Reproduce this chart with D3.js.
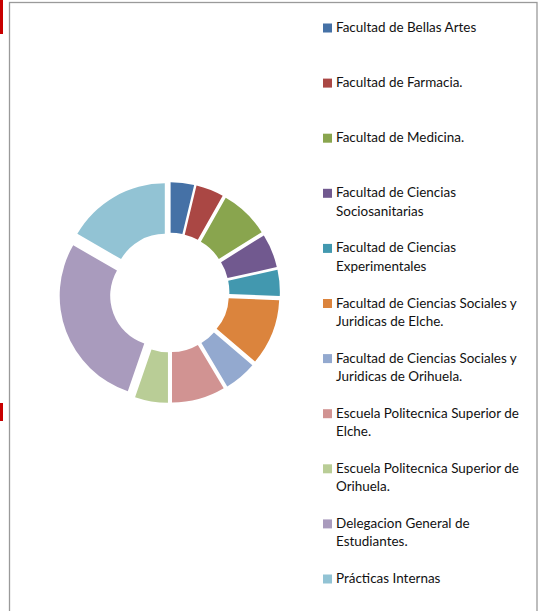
<!DOCTYPE html>
<html>
<head>
<meta charset="utf-8">
<script src="https://cdn.jsdelivr.net/npm/d3@7/dist/d3.min.js"></script>
<style>
  html, body { margin: 0; padding: 0; background: #fff; }
  svg { display: block; }
</style>
</head>
<body>
<svg id="chart" width="538" height="611"></svg>
<script>
const categories = [
  ["Facultad de Bellas Artes"],
  ["Facultad de Farmacia."],
  ["Facultad de Medicina."],
  ["Facultad de Ciencias", "Sociosanitarias"],
  ["Facultad de Ciencias", "Experimentales"],
  ["Facultad de Ciencias Sociales y", "Juridicas de Elche."],
  ["Facultad de Ciencias Sociales y", "Juridicas de Orihuela."],
  ["Escuela Politecnica Superior de", "Elche."],
  ["Escuela Politecnica Superior de", "Orihuela."],
  ["Delegacion General de", "Estudiantes."],
  ["Prácticas Internas"]
];
const values = [13.5, 16, 28.5, 19.5, 15, 38, 18.7, 30.8, 19, 101, 60];
const colors = ["#4571A6", "#AA4744", "#89A54E", "#71598F", "#4298AF", "#DB843D",
                "#93A9CF", "#D19392", "#B9CD96", "#A99BBD", "#92C3D4"];

const svg = d3.select("#chart");

// frame
svg.append("rect").attr("x", 9.5).attr("y", 2.5).attr("width", 527.5).attr("height", 640)
  .attr("fill", "none").attr("stroke", "#9a9a9a").attr("stroke-width", 1.3);
// red margin marks
svg.append("rect").attr("x", 0).attr("y", 0).attr("width", 3).attr("height", 34).attr("fill", "#C80000");
svg.append("rect").attr("x", 0).attr("y", 403).attr("width", 3).attr("height", 18).attr("fill", "#C80000");

// donut
const cx = 169.5, cy = 292.5, R = 101, r = 50.5, explode = 9.4;
const pie = d3.pie().sort(null).value(d => d);
const arcs = pie(values);
const arc = d3.arc().innerRadius(r).outerRadius(R);
const g = svg.append("g").attr("transform", `translate(${cx},${cy})`);
g.selectAll("path").data(arcs).enter().append("path")
  .attr("d", arc)
  .attr("fill", (d, i) => colors[i])
  .attr("transform", d => {
    const a = (d.startAngle + d.endAngle) / 2;
    return `translate(${Math.sin(a) * explode},${-Math.cos(a) * explode})`;
  });

// legend
const lx = 323, ty = 336, base0 = 32, step = 55.1, lh = 18.5;
const leg = svg.append("g");
const probe = leg.append("text").attr("font-family", "Lato, 'Open Sans', sans-serif")
  .attr("font-size", 14).text("Facultad de Ciencias Sociales y");
const w = probe.node().getComputedTextLength();
probe.remove();
const fs = 14 * 181 / w;
categories.forEach((lines, i) => {
  const by = base0 + i * step;
  leg.append("rect").attr("x", lx).attr("y", by - 8.5).attr("width", 9).attr("height", 9)
    .attr("fill", colors[i]);
  const t = leg.append("text").attr("font-family", "Lato, 'Open Sans', sans-serif")
    .attr("font-size", fs).attr("fill", "#111");
  lines.forEach((ln, j) => {
    t.append("tspan").attr("x", ty).attr("y", by + j * lh).text(ln);
  });
});
</script>
</body>
</html>
